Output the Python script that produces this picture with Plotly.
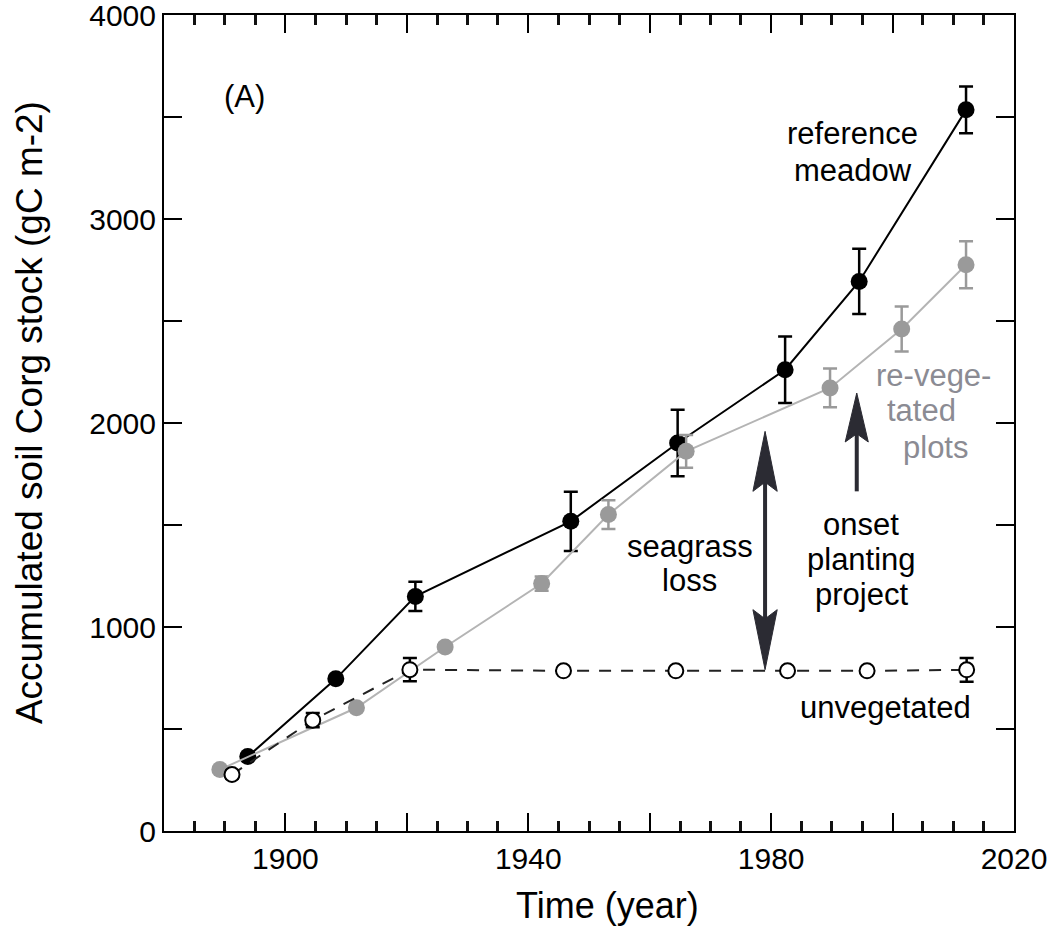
import plotly.graph_objects as go

# ---------------- data ----------------
ref_year = [1893.8, 1908.3, 1921.4, 1947.0, 1964.6, 1982.3, 1994.5, 2012.1]
ref_stock = [365, 746, 1150, 1518, 1902, 2261, 2694, 3535]
ref_err = [0, 0, 72, 145, 163, 163, 160, 115]

reveg_year = [1889.2, 1911.7, 1926.3, 1942.2, 1953.2, 1966.0, 1989.7, 2001.5, 2012.1]
reveg_stock = [301, 604, 902, 1213, 1551, 1861, 2172, 2461, 2776]
reveg_err = [0, 0, 20, 35, 70, 80, 95, 110, 115]

unveg_year = [1891.2, 1904.5, 1920.5, 1945.8, 1964.3, 1982.7, 1995.8, 2012.2]
unveg_stock = [277, 543, 791, 785, 785, 785, 785, 790]
unveg_err = [20, 35, 57, 0, 0, 0, 0, 58]

FONT = "Liberation Sans, Arial, Helvetica, sans-serif"
GRAY = "#9a9a9a"
GRAY_LINE = "#b4b4b4"
ARROW = "#2b2b33"

fig = go.Figure()

fig.add_trace(go.Scatter(
    x=ref_year, y=ref_stock, mode="lines+markers",
    line=dict(color="black", width=2),
    marker=dict(color="black", size=17, symbol="circle"),
    error_y=dict(type="data", array=ref_err, visible=True, color="black", thickness=2.5, width=7),
    showlegend=False,
))
fig.add_trace(go.Scatter(
    x=reveg_year, y=reveg_stock, mode="lines+markers",
    line=dict(color=GRAY_LINE, width=2),
    marker=dict(color=GRAY, size=17, symbol="circle"),
    error_y=dict(type="data", array=reveg_err, visible=True, color=GRAY, thickness=2.5, width=7),
    showlegend=False,
))
fig.add_trace(go.Scatter(
    x=unveg_year, y=unveg_stock, mode="lines+markers",
    line=dict(color="#222222", width=2, dash="12px,10px"),
    marker=dict(color="white", size=15, symbol="circle", line=dict(color="black", width=2)),
    error_y=dict(type="data", array=unveg_err, visible=True, color="black", thickness=2.5, width=7),
    showlegend=False,
))

# ---------------- arrows (annotation shapes) ----------------
def head(x, ytip, direction, length, halfw, notch):
    yb = ytip - direction * length
    yn = ytip - direction * (length - notch)
    return f"M {x},{ytip} L {x - halfw},{yb} L {x},{yn} L {x + halfw},{yb} Z"

shapes = []
ax, a_top, a_bot = 1979.0, 1959, 791
shapes.append(dict(type="line", x0=ax, x1=ax, y0=a_bot + 200, y1=a_top - 200,
                   line=dict(color=ARROW, width=4), xref="x", yref="y"))
shapes.append(dict(type="path", path=head(ax, a_top, 1, 294, 2.0, 45),
                   fillcolor=ARROW, line=dict(color=ARROW, width=1), xref="x", yref="y"))
shapes.append(dict(type="path", path=head(ax, a_bot, -1, 294, 2.0, 45),
                   fillcolor=ARROW, line=dict(color=ARROW, width=1), xref="x", yref="y"))
bx, b_top, b_bot = 1994.1, 2147, 1665
shapes.append(dict(type="line", x0=bx, x1=bx, y0=b_bot, y1=b_top - 150,
                   line=dict(color=ARROW, width=4), xref="x", yref="y"))
shapes.append(dict(type="path", path=head(bx, b_top, 1, 240, 1.9, 40),
                   fillcolor=ARROW, line=dict(color=ARROW, width=1), xref="x", yref="y"))
fig.update_layout(shapes=shapes)

# ---------------- text ----------------
def txt(x, y, s, color="black", size=31):
    fig.add_annotation(x=x, y=y, xref="x", yref="y", text=s, showarrow=False,
                       xanchor="center", yanchor="middle",
                       font=dict(family=FONT, size=size, color=color))

txt(1893.3, 3599, "(A)", size=31)
txt(1993.4, 3419, "reference")
txt(1993.4, 3240, "meadow")
txt(2006.7, 2234, "re-vege-", color="#8b8b93")
txt(2004.8, 2063, "tated", color="#8b8b93")
txt(2007.0, 1882, "plots", color="#8b8b93")
txt(1966.6, 1397, "seagrass")
txt(1966.6, 1226, "loss")
txt(1994.8, 1503, "onset")
txt(1994.8, 1332, "planting")
txt(1994.8, 1160, "project")
txt(1998.9, 605, "unvegetated")

# axis titles as annotations
fig.add_annotation(x=-0.158, y=0.513, xref="paper", yref="paper", textangle=-90,
                   xanchor="center", yanchor="middle",
                   text="Accumulated soil Corg stock (gC m-2)", showarrow=False,
                   font=dict(family=FONT, size=37, color="black"))
fig.add_annotation(x=0.522, y=-0.091, xref="paper", yref="paper",
                   xanchor="center", yanchor="middle",
                   text="Time (year)", showarrow=False,
                   font=dict(family=FONT, size=36, color="black"))

tickfont = dict(family=FONT, size=30, color="black")

fig.update_layout(
    xaxis=dict(range=[1880, 2020], tickmode="linear", tick0=1900, dtick=20, ticklabelstep=2,
               ticks="inside", ticklen=18, tickwidth=2, tickcolor="black",
               showline=True, linecolor="black", linewidth=2, mirror="ticks",
               tickfont=tickfont, ticklabeloverflow="allow",
               minor=dict(ticks="inside", ticklen=10, tickwidth=2.5, tickcolor="#111111",
                          tickmode="linear", tick0=1880, dtick=5, showgrid=False),
               showgrid=False, zeroline=False, automargin=False),
    yaxis=dict(range=[0, 4000], tickmode="linear", tick0=0, dtick=500, ticklabelstep=2,
               ticks="inside", ticklen=18, tickwidth=2, tickcolor="black",
               showline=True, linecolor="black", linewidth=2, mirror="ticks",
               tickfont=tickfont, ticklabeloverflow="allow",
               showgrid=False, zeroline=False, automargin=False),
    width=1051, height=926,
    margin=dict(l=164, r=37, t=15, b=95),
    paper_bgcolor="white", plot_bgcolor="white",
    font=dict(family=FONT),
)

fig.write_html("out.html")
